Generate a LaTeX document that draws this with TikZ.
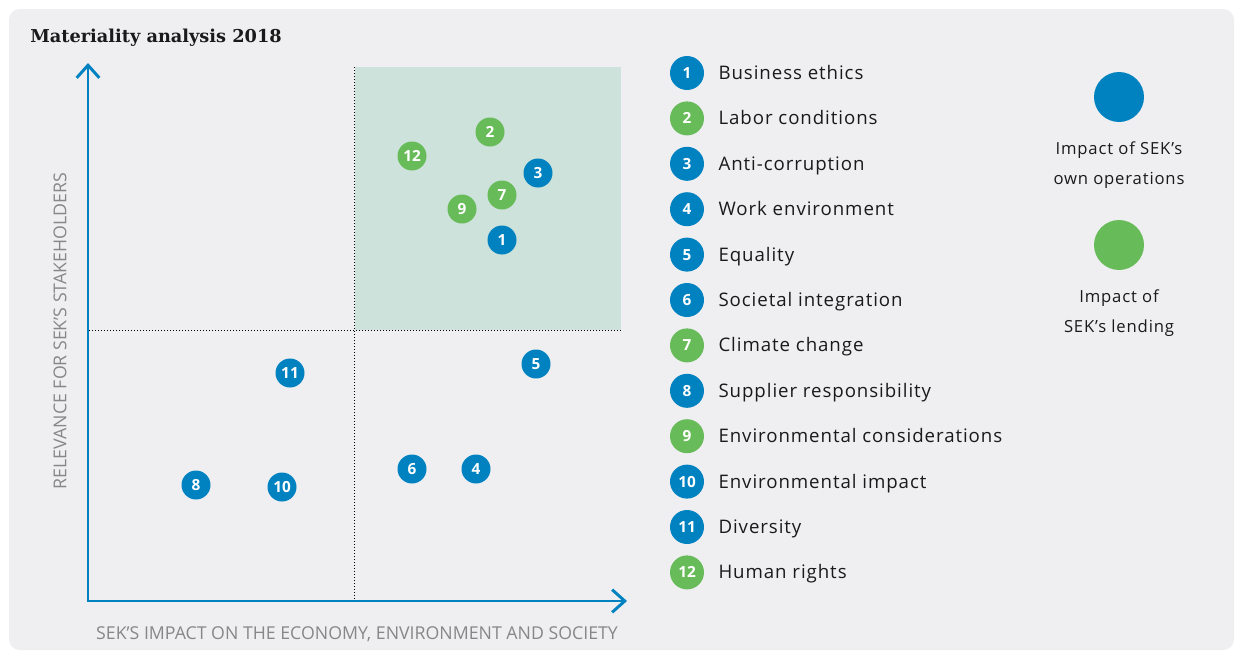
\documentclass[tikz,border=0pt]{standalone}
\usepackage{fontspec}
\setmainfont{Open Sans}
\newfontfamily\titlefont{DejaVu Serif}
\newfontfamily\widefont[LetterSpace=5]{Open Sans}
\usetikzlibrary{positioning,arrows.meta}

\definecolor{sekblue}{RGB}{0,130,192}
\definecolor{sekgreen}{RGB}{104,187,89}
\definecolor{zonegreen}{RGB}{205,226,218}
\definecolor{panel}{RGB}{239,239,242}
\definecolor{axisgrey}{RGB}{135,135,135}
\definecolor{ink}{RGB}{26,26,26}

\tikzset{
  bubble/.style={circle, fill=#1, text=white, inner sep=0pt, minimum size=21.75pt,
    font=\bfseries\fontsize{11.5}{11.5}\selectfont},
  keybubble/.style={bubble=#1, minimum size=25.5pt},
  keytext/.style={inner sep=0pt, text=ink, text height=1.8ex, text depth=0pt,
    font=\widefont\fontsize{14}{14}\selectfont},
  keynote/.style={inner sep=0pt, text=ink, align=center, font=\widefont\fontsize{12.5}{22.5}\selectfont},
  quadline/.style={black, line width=0.75pt, dash pattern=on 0.75pt off 1.5pt},
  axis/.style={sekblue, line width=2.2pt, line join=miter,
    {Straight Barb[length=9.5pt,width=17pt]}-{Straight Barb[length=9.5pt,width=17pt]}},
  axislabel/.style={inner sep=0pt, text=axisgrey, font=\fontsize{13.3}{13.3}\selectfont}
}

\begin{document}
\begin{tikzpicture}[x=0.75pt, y=-0.75pt]
  \useasboundingbox (0,0) rectangle (1236,653);

  % Panel and title
  \fill[panel, rounded corners=8pt] (9,9) rectangle (1234,650);
  \node[anchor=base west, inner sep=0pt, text=ink, font=\titlefont\bfseries\fontsize{13.3}{13.3}\selectfont]
    (title) at (30,42) {Materiality analysis 2018};

  % Most material quadrant
  \fill[zonegreen] (355,67) rectangle (621,330);
  \draw[quadline] (354,67) -- (354,601);
  \draw[quadline] (89,330) -- (621,330);

  % Axes
  \coordinate (ytip) at (88,63);
  \coordinate (origin) at (88,601);
  \coordinate (xtip) at (627,601);
  \draw[axis] (ytip) -- (origin) -- (xtip);
  \node[axislabel, rotate=90] (ylabel) at (60,331) {RELEVANCE FOR SEK’S STAKEHOLDERS};
  \node[axislabel] (xlabel) at (357,634) {SEK’S IMPACT ON THE ECONOMY, ENVIRONMENT AND SOCIETY};

  % Topics in the matrix
  \foreach \n/\c/\x/\y in {1/sekblue/502/240, 2/sekgreen/490/132, 3/sekblue/538/173,
      4/sekblue/476/469, 5/sekblue/536/364, 6/sekblue/412/469, 7/sekgreen/502/195,
      8/sekblue/196/485, 9/sekgreen/462/209, 10/sekblue/282/487, 11/sekblue/290/373,
      12/sekgreen/412/156}
    \node[bubble=\c] (p\n) at (\x,\y) {\n};

  % Topic list
  \foreach \n/\c/\topic in {1/sekblue/Business ethics, 2/sekgreen/Labor conditions,
      3/sekblue/Anti-corruption, 4/sekblue/Work environment, 5/sekblue/Equality,
      6/sekblue/Societal integration, 7/sekgreen/Climate change,
      8/sekblue/Supplier responsibility, 9/sekgreen/Environmental considerations,
      10/sekblue/Environmental impact, 11/sekblue/Diversity, 12/sekgreen/Human rights} {
    \node[keybubble=\c] (k\n) at (687,{73+(\n-1)*45.4}) {\n};
    \node[keytext, right=10.5pt of k\n] (t\n) {\topic};
  }

  % Colour key
  \node[bubble=sekblue, minimum size=37.5pt] (own) at (1119,97) {};
  \node[keynote] (ownlbl) at (1119,165) {Impact of SEK’s\\own operations};
  \node[bubble=sekgreen, minimum size=37.5pt] (lend) at (1119,245) {};
  \node[keynote] (lendlbl) at (1119,313) {Impact of\\SEK’s lending};
\end{tikzpicture}
\end{document}
